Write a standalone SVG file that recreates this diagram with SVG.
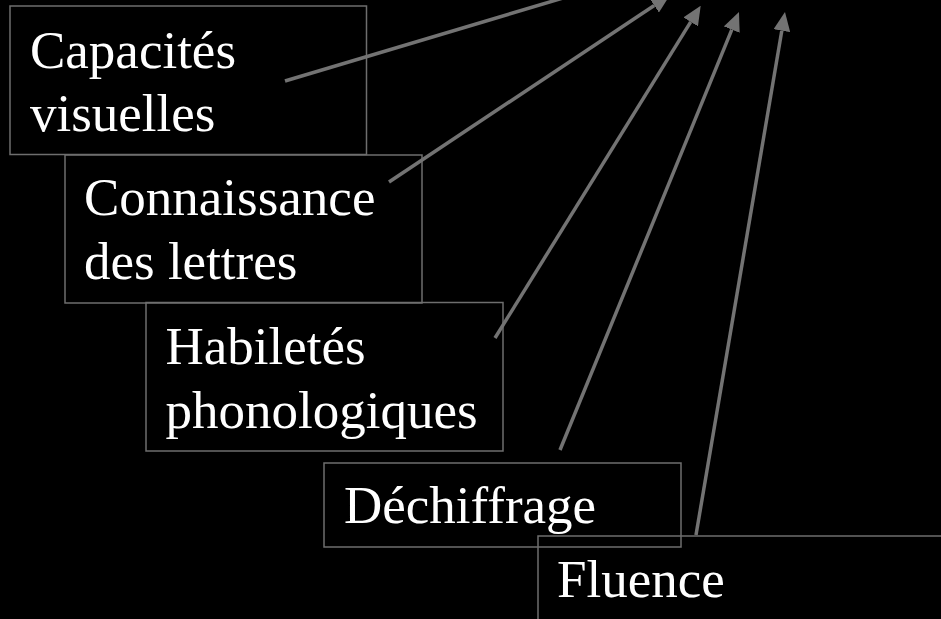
<svg xmlns="http://www.w3.org/2000/svg" width="941" height="619" viewBox="0 0 941 619">
  <style>
    .box { fill: none; stroke: #6e6e6e; stroke-width: 1.5; }
    .lbl { fill: #ffffff; font-family: "Liberation Serif", "Times New Roman", serif; font-size: 53px; }
    .conn { stroke: #737373; stroke-width: 3.5; fill: none; marker-end: url(#ah); }
  </style>
  <defs>
    <marker id="ah" markerUnits="userSpaceOnUse" markerWidth="19" markerHeight="17" refX="0" refY="8.5" orient="auto" viewBox="0 0 19 17">
      <path d="M0,0 L19,8.5 L0,17 z" fill="#737373"/>
    </marker>
  </defs>
  <rect x="0" y="0" width="941" height="619" fill="#000000"/>
  <g id="node-capacites">
    <rect class="box" x="10" y="6" width="356.5" height="148.5"/>
    <text class="lbl" x="30" y="68">Capacités</text>
    <text class="lbl" x="30" y="131">visuelles</text>
  </g>
  <g id="node-connaissance">
    <rect class="box" x="65" y="155" width="357" height="148"/>
    <text class="lbl" x="84" y="215">Connaissance</text>
    <text class="lbl" x="84" y="279">des lettres</text>
  </g>
  <g id="node-habiletes">
    <rect class="box" x="146" y="302.5" width="357" height="148.5"/>
    <text class="lbl" x="165.5" y="364">Habiletés</text>
    <text class="lbl" x="165.5" y="428">phonologiques</text>
  </g>
  <g id="node-dechiffrage">
    <rect class="box" x="324" y="463" width="357" height="84"/>
    <text class="lbl" x="344" y="523">Déchiffrage</text>
  </g>
  <g id="node-fluence">
    <rect class="box" x="538" y="536" width="420" height="100"/>
    <text class="lbl" x="557" y="597">Fluence</text>
  </g>
  <g id="connectors">
    <line class="conn" x1="285" y1="81" x2="581.8" y2="-7.6"/>
    <line class="conn" x1="389" y1="182" x2="654.2" y2="5.5"/>
    <line class="conn" x1="495" y1="338" x2="690.7" y2="21.9"/>
    <line class="conn" x1="560" y1="450" x2="731.8" y2="29.6"/>
    <line class="conn" x1="696" y1="535" x2="781.8" y2="30.7"/>
  </g>
</svg>
